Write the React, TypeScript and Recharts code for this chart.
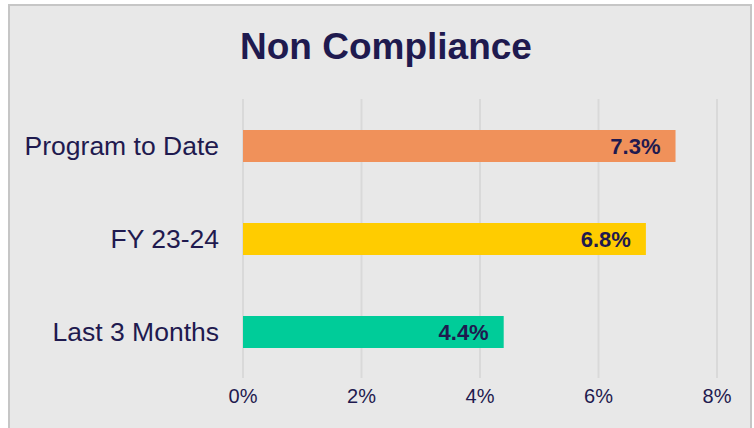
import { BarChart, Bar, XAxis, YAxis, CartesianGrid, LabelList, Cell } from 'recharts';

const categories = ['Program to Date', 'FY 23-24', 'Last 3 Months'];
const values = [7.3, 6.8, 4.4];
const barColors = ['#F0915A', '#FFCC00', '#00CC99'];
const xTicks = [0, 2, 4, 6, 8];

const TEXT = '#1F1A4F';
const FONT = '"Liberation Sans", Arial, sans-serif';

export default function App() {
    const data = categories.map((name, i) => ({ name, value: values[i], color: barColors[i] }));

    return (
        <div style={{ position: 'absolute', left: 0, top: 0, width: 754, height: 428, background: '#ffffff', overflow: 'hidden', fontFamily: FONT }}>
            {/* chart frame */}
            <div style={{
                position: 'absolute', left: 8, top: 4, width: 744, height: 440,
                boxSizing: 'border-box', border: '2px solid #c6c6c6', background: '#e8e8e8'
            }} />

            <div style={{
                position: 'absolute', left: 0, top: 23, width: 772, textAlign: 'center',
                fontSize: 37, fontWeight: 'bold', color: TEXT, lineHeight: '48px'
            }}>
                Non Compliance
            </div>

            <div style={{ position: 'absolute', left: 0, top: 0 }}>
                <BarChart
                    width={754}
                    height={428}
                    data={data}
                    layout="vertical"
                    margin={{ top: 99, right: 37, left: 0, bottom: 20 }}
                    barSize={32}
                >
                    <CartesianGrid horizontal={false} stroke="#d9d9d9" strokeWidth={2} />
                    <XAxis
                        type="number"
                        domain={[0, 8]}
                        ticks={xTicks}
                        tickFormatter={(v) => `${v}%`}
                        axisLine={false}
                        tickLine={false}
                        tickMargin={5}
                        height={30}
                        tick={{ fontSize: 20, fill: TEXT, fontFamily: FONT }}
                    />
                    <YAxis
                        type="category"
                        dataKey="name"
                        width={243}
                        axisLine={false}
                        tickLine={false}
                        tickMargin={18}
                        tick={{ fontSize: 26.5, fill: TEXT, fontFamily: FONT }}
                    />
                    <Bar dataKey="value" isAnimationActive={false}>
                        {data.map((d, i) => (
                            <Cell key={`c-${i}`} fill={d.color} />
                        ))}
                        <LabelList
                            dataKey="value"
                            position="insideRight"
                            offset={15}
                            formatter={(v: any) => `${Number(v).toFixed(1)}%`}
                            style={{ fontSize: 22, fontWeight: 'bold', fill: TEXT, fontFamily: FONT }}
                        />
                    </Bar>
                </BarChart>
            </div>
        </div>
    );
}
